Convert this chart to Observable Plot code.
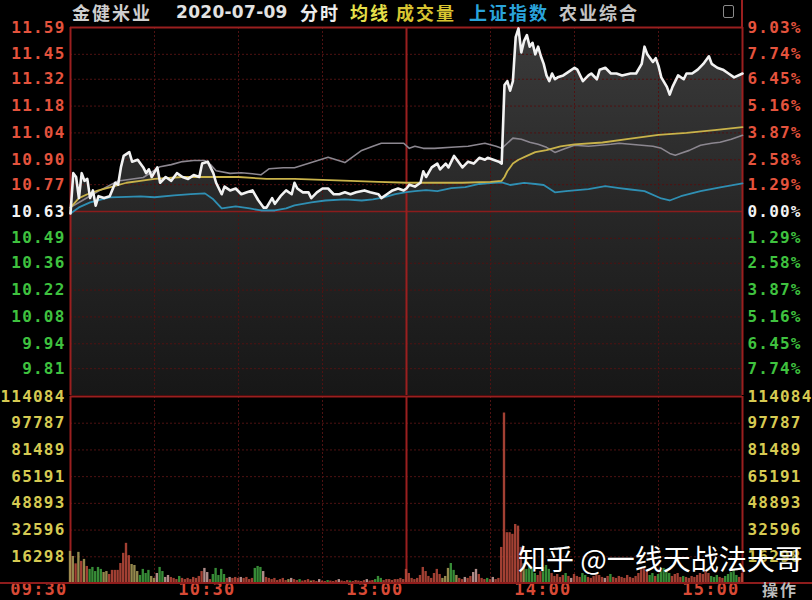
<!DOCTYPE html>
<html><head><meta charset="utf-8">
<script src="https://cdn.jsdelivr.net/npm/d3@7"></script>
<script src="https://cdn.jsdelivr.net/npm/@observablehq/plot@0.6"></script>
<style>
html,body{margin:0;padding:0;background:#000;}
#wrap{position:relative;width:812px;height:600px;background:#000;overflow:hidden;font-family:"Noto Sans CJK SC",sans-serif;}
#wrap svg{position:absolute;left:0;overflow:visible;}
#wrap svg text{letter-spacing:1.2px;}
.hd{position:absolute;top:1px;font-weight:bold;font-size:18px;letter-spacing:2px;line-height:22px;white-space:nowrap;}
.line{position:absolute;}
</style></head><body>
<div id="wrap">
  <div class="hd" style="left:72px;color:#cfcfcf;">金健米业</div>
  <div class="hd" style="left:176px;color:#e2e2e2;font-family:'DejaVu Sans';font-size:17px;letter-spacing:0.3px;">2020-07-09</div>
  <div class="hd" style="left:300px;color:#ececec;">分时</div>
  <div class="hd" style="left:350px;color:#e6e04a;">均线</div>
  <div class="hd" style="left:396px;color:#d9c531;">成交量</div>
  <div class="hd" style="left:469px;color:#2aa3da;">上证指数</div>
  <div class="hd" style="left:559px;color:#c4c4c4;">农业综合</div>
  <div class="line" style="left:723px;top:5px;width:9px;height:11px;border:1px solid #8a8a8a;border-radius:2px;"></div>
  <div class="line" style="left:741px;top:0;width:2px;height:28px;background:#9a1f1f;"></div>
  <div id="price"></div>
  <div id="vol"></div>
  <div class="line" style="left:0;top:582px;width:812px;height:2px;background:#8e1c1c;"></div>
  <div class="hd" style="left:762px;top:580px;color:#bdbdbd;font-size:16px;line-height:18px;">操作</div>
  <div class="hd" style="left:518px;top:543px;color:#fff;font-weight:normal;font-size:28px;letter-spacing:0;line-height:30px;text-shadow:0 0 3px rgba(0,0,0,0.6);">知乎 @一线天战法天哥</div>
</div>
<script>
// ---- data ----
const prevClose = 10.63;
const priceMin = 9.67, priceMax = 11.59;
const priceTicks = [11.59, 11.45, 11.32, 11.18, 11.04, 10.90, 10.77, 10.63, 10.49, 10.36, 10.22, 10.08, 9.94, 9.81];
const pctLabels = ["9.03%","7.74%","6.45%","5.16%","3.87%","2.58%","1.29%","0.00%","1.29%","2.58%","3.87%","5.16%","6.45%","7.74%"];
const volTicks = [114084, 97787, 81489, 65191, 48893, 32596, 16298];
const timeTickMinutes = [0, 60, 120, 180, 240];
const timeLabels = ["09:30", "10:30", "13:00", "14:00", "15:00"];
const gridMinutes = [30, 60, 90, 150, 180, 210];
const borderMinutes = [0, 120, 240];

// stock price (white line)
const priceMinutes = [0,1,2,3,4,5,6,7,8,9,10,12,14,16,17,18,19,21,22,24,26,27,28,29,31,32,34,36,38,40,42,44,46,47,49,51,52,54,55,57,59,61,63,65,67,69,70,72,73,75,77,79,80,81,83,85,86,88,90,92,94,96,98,100,102,105,107,110,111,113,115,117,119,120,121,123,125,126,127,129,131,132,134,135,137,138,140,142,144,146,148,149,151,153,154,155,156,157,158,159,160,161,162,163,164,165,166,167,168,169,170,171,172,173,174,176,178,180,181,183,185,186,188,189,191,193,195,197,200,202,204,205,206,208,209,210,211,213,214,215,217,219,220,222,224,226,228,229,231,233,235,237,240];
const priceValues = [10.62,10.83,10.81,10.70,10.83,10.79,10.80,10.70,10.74,10.66,10.71,10.70,10.71,10.78,10.77,10.86,10.92,10.94,10.89,10.90,10.86,10.83,10.85,10.81,10.86,10.78,10.81,10.79,10.83,10.81,10.80,10.82,10.81,10.88,10.89,10.83,10.78,10.72,10.76,10.74,10.75,10.72,10.73,10.74,10.69,10.65,10.65,10.70,10.67,10.71,10.74,10.72,10.78,10.75,10.73,10.73,10.70,10.73,10.75,10.75,10.72,10.72,10.73,10.72,10.73,10.74,10.73,10.72,10.70,10.72,10.74,10.75,10.74,10.75,10.77,10.76,10.78,10.84,10.81,10.86,10.88,10.85,10.88,10.86,10.92,10.90,10.86,10.89,10.88,10.91,10.90,10.91,10.90,10.89,10.88,11.29,11.31,11.26,11.31,11.54,11.585,11.46,11.52,11.55,11.49,11.51,11.45,11.49,11.44,11.40,11.34,11.31,11.35,11.32,11.33,11.34,11.36,11.38,11.37,11.31,11.34,11.35,11.32,11.37,11.38,11.35,11.35,11.34,11.35,11.35,11.40,11.49,11.45,11.41,11.43,11.39,11.33,11.28,11.24,11.28,11.34,11.32,11.35,11.35,11.37,11.40,11.44,11.40,11.38,11.37,11.35,11.33,11.35];

// average price (yellow line)
const avgMinutes = [0,3,6,10,15,20,25,30,40,50,60,70,80,90,100,110,120,130,140,150,154,155,156,157,158,160,163,166,170,175,180,190,200,210,220,230,240];
const avgValues = [10.65,10.70,10.72,10.74,10.76,10.78,10.79,10.80,10.81,10.81,10.81,10.80,10.80,10.795,10.79,10.785,10.78,10.78,10.78,10.785,10.79,10.81,10.84,10.86,10.88,10.90,10.92,10.94,10.95,10.97,10.98,10.99,11.01,11.03,11.04,11.055,11.07];

// sector index 农业综合 (gray line), % change
const sectorMinutes = [0,5,10,17,26,32,36,40,44,48,50,52,57,61,65,68,71,76,80,86,92,98,104,108,111,115,119,121,123,126,130,136,142,148,152,154,156,158,161,164,167,170,173,176,180,185,189,193,196,200,204,208,211,214,216,218,221,225,229,232,236,240];
const sectorPct = [0.2,0.6,1.0,1.5,1.67,2.2,2.3,2.45,2.5,2.5,2.3,2.0,1.87,1.9,1.85,1.8,2.1,2.15,2.15,2.4,2.66,2.4,3.0,3.2,3.35,3.35,3.35,3.1,3.2,3.1,3.1,3.15,3.2,3.35,3.2,3.1,3.35,3.6,3.55,3.4,3.3,3.15,2.9,3.05,3.25,3.2,3.25,3.3,3.35,3.3,3.25,3.2,3.1,2.85,2.76,2.86,3.0,3.25,3.35,3.4,3.55,3.74];

// 上证指数 (cyan line), % change
const indexMinutes = [0,3,7,14,20,25,30,37,43,48,51,54,59,64,68,73,77,80,86,91,98,104,108,112,116,120,123,127,131,136,141,146,151,154,157,162,166,169,173,177,185,191,196,200,205,211,214,218,225,232,240];
const indexPct = [-0.1,0.2,0.45,0.69,0.72,0.74,0.7,0.79,0.85,0.89,0.6,0.15,0.25,0.15,0.05,0.05,0.15,0.3,0.45,0.54,0.6,0.54,0.6,0.69,0.85,0.95,1.0,1.05,1.0,1.15,1.2,1.35,1.4,1.43,1.3,1.4,1.35,1.3,0.94,1.0,1.1,1.25,1.15,1.08,1.0,0.64,0.54,0.75,1.0,1.18,1.38];

// volume per minute and bar colour code (r up, g down, y / w light)
const volumes = [
19600,16500,12000,19000,13500,14700,10400,8600,9800,7300,
9800,8600,6700,7300,5500,8000,8000,8000,12200,18400,
24500,17000,11600,11000,7300,4900,8600,6100,8000,4300,
3100,6100,9800,7300,3700,4900,3700,3100,2400,4300,
3100,2400,3100,2400,3700,3100,4300,7300,9200,6700,
2400,5500,9200,4900,8600,5500,3100,3700,3100,3700,
3100,3700,3100,3700,2400,3100,9200,10400,9800,7300,
3700,3100,2400,3100,1800,2400,3100,1800,2400,3100,
2400,1800,2400,1500,1800,2400,1500,1800,1200,2400,
1500,1200,1800,1500,1200,1800,2400,1500,1200,1800,
1500,1200,1800,1500,1200,1800,2400,1500,1800,2400,
4300,3100,1800,2400,2400,1800,2400,2400,3100,2400,
8600,6100,3100,2400,3100,4900,9800,7300,4300,3100,
6100,8600,5500,3100,4300,9200,12200,8000,4900,3100,
2400,3700,3100,4300,6700,8600,5500,3100,2400,3100,
2400,3700,2400,3100,22000,104000,31000,31000,30000,36000,
35000,22000,12000,8600,10400,9200,6100,4900,7300,9800,
11000,8600,6100,4300,5500,3700,4900,6100,4300,3100,
5500,4300,3700,6100,4900,3700,3100,4300,6100,4900,
3700,3100,4300,5500,3700,3100,4300,3700,3100,4900,
3700,3100,4300,6100,8600,9800,7300,4900,6100,4300,
5500,7300,9200,8600,6100,4300,5500,6100,3700,4300,
3700,3100,4300,3700,4900,6100,5500,7300,6100,4300,
3700,4900,3700,3100,4300,5500,6700,8600,4900,3700,
6100];
const volColors =
"yyryryrggg"+"ggyyrrrrrr"+"rryyyggggy"+"ywggwwrrrg"+"rrrrrrrrww"+
"rgggggrwrr"+"rwrrrrgggw"+"rrrrrrrryw"+"rrgrrryrrw"+"rrgrrrwrrr"+
"grrrrrwrrg"+"ggrrrrrrrr"+"rrrrrrrrrr"+"rrryyyggyr"+"rwrrwwrrrg"+
"rwrrrrrrrr"+"rryggggrrg"+"ggrrrrrgrw"+"rrrggrrrrr"+"rwrgrrrrrr"+
"rrrrrrrggr"+"gggggrrrrg"+"rrrrrrrrrg"+"ggrrgggggr"+"r";

// ---- styling ----
const palette = {r: "#b8493a", g: "#3f9f3f", y: "#a99b58", w: "#c89f9c"};
const dimGrid = "#4f1212", brightGrid = "#9a1f1f";
const monoFont = "DejaVu Sans Mono";
const tickColor = p => p > prevClose + 1e-9 ? "#e4533d" : (Math.abs(p - prevClose) < 1e-9 ? "#f2f2f2" : "#3fc23f");

const priceData = priceMinutes.map((m, i) => ({m, p: priceValues[i]}));
const avgData = avgMinutes.map((m, i) => ({m, p: avgValues[i]}));
const sectorData = sectorMinutes.map((m, i) => ({m, p: prevClose * (1 + sectorPct[i] / 100)}));
const indexData = indexMinutes.map((m, i) => ({m, p: prevClose * (1 + indexPct[i] / 100)}));
const volData = volumes.map((v, i) => ({m: i, v, c: palette[volColors[i]]}));

const pricePlot = Plot.plot({
  width: 812, height: 396,
  marginTop: 27, marginBottom: 1, marginLeft: 70, marginRight: 70,
  x: {domain: [0, 240], axis: null},
  y: {domain: [priceMin, priceMax], axis: null},
  color: {type: "identity"},
  style: {background: "transparent", overflow: "visible"},
  marks: [
    Plot.areaY(priceData, {x: "m", y1: () => priceMin, y2: "p", fill: "url(#areaGrad)"}),
    Plot.ruleY(priceTicks.filter(t => t !== prevClose && t !== priceMax), {stroke: dimGrid, strokeDasharray: "2,2"}),
    Plot.ruleX(gridMinutes, {stroke: dimGrid, strokeDasharray: "2,2"}),
    Plot.ruleY([prevClose], {stroke: "#8a1c1c", strokeWidth: 1.5}),
    Plot.ruleY([priceMax], {stroke: brightGrid, strokeWidth: 2}),
    Plot.ruleX(borderMinutes, {stroke: brightGrid, strokeWidth: 2}),
    Plot.line(sectorData, {x: "m", y: "p", stroke: "#8c8790", strokeWidth: 1.6}),
    Plot.line(indexData, {x: "m", y: "p", stroke: "#2f8fb3", strokeWidth: 1.8}),
    Plot.line(avgData, {x: "m", y: "p", stroke: "#c9b34a", strokeWidth: 1.8}),
    Plot.line(priceData, {x: "m", y: "p", stroke: "#f2f2f2", strokeWidth: 2.6, strokeLinejoin: "round"}),
    Plot.text(priceTicks, {y: d => d, text: d => d.toFixed(2), frameAnchor: "left", textAnchor: "end", dx: -5,
      fill: d => tickColor(d), fontFamily: monoFont, fontWeight: "bold", fontSize: 16}),
    Plot.text(priceTicks, {y: d => d, text: (d, i) => pctLabels[i], frameAnchor: "right", textAnchor: "start", dx: 5,
      fill: d => tickColor(d), fontFamily: monoFont, fontWeight: "bold", fontSize: 16})
  ]
});
const defs = document.createElementNS("http://www.w3.org/2000/svg", "defs");
defs.innerHTML = '<linearGradient id="areaGrad" gradientUnits="userSpaceOnUse" x1="0" y1="27" x2="0" y2="395">' +
  '<stop offset="0" stop-color="#3b3b3b"/><stop offset="0.5" stop-color="#272727"/><stop offset="1" stop-color="#171717"/></linearGradient>';
pricePlot.insertBefore(defs, pricePlot.firstChild);
pricePlot.style.top = "0px";
document.getElementById("price").appendChild(pricePlot);

const volPlot = Plot.plot({
  width: 812, height: 220,
  marginTop: 16, marginBottom: 17, marginLeft: 70, marginRight: 70,
  x: {domain: [0, 240], axis: null},
  y: {domain: [0, volTicks[0]], axis: null},
  color: {type: "identity"},
  style: {background: "transparent", overflow: "visible"},
  marks: [
    Plot.ruleY(volTicks.slice(1), {stroke: dimGrid, strokeDasharray: "2,2"}),
    Plot.ruleX(gridMinutes, {stroke: dimGrid, strokeDasharray: "2,2"}),
    Plot.ruleY([volTicks[0]], {stroke: brightGrid, strokeWidth: 2}),
    Plot.ruleX(borderMinutes, {stroke: brightGrid, strokeWidth: 2}),
    Plot.rectY(volData, {x1: d => d.m - 0.42, x2: d => d.m + 0.42, y1: 0, y2: "v", fill: "c", fillOpacity: 0.88}),
    Plot.text(volTicks, {y: d => d, text: d => String(d), frameAnchor: "left", textAnchor: "end", dx: -5,
      fill: "#d6ca52", fontFamily: monoFont, fontWeight: "bold", fontSize: 16}),
    Plot.text(volTicks, {y: d => d, text: d => String(d), frameAnchor: "right", textAnchor: "start", dx: 5,
      fill: "#d6ca52", fontFamily: monoFont, fontWeight: "bold", fontSize: 16}),
    Plot.text(timeTickMinutes, {x: d => d, text: (d, i) => timeLabels[i], frameAnchor: "bottom", textAnchor: "end",
      dx: -3, dy: 11, fill: "#d84a36", fontFamily: monoFont, fontWeight: "bold", fontSize: 17})
  ]
});
volPlot.style.top = "380px";
document.getElementById("vol").appendChild(volPlot);
</script>
</body></html>
